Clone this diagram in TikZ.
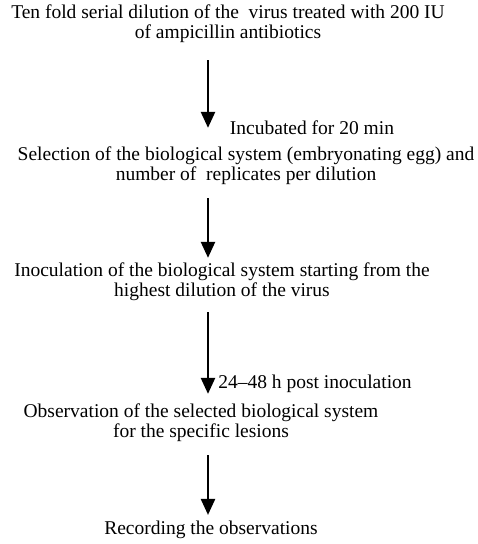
\documentclass[tikz,border=0pt]{standalone}
\usepackage{fontspec}
\setmainfont{Liberation Serif}
\usetikzlibrary{arrows.meta}

\begin{document}
\begin{tikzpicture}[x=1pt, y=-1pt,
		txt/.style={align=center, inner sep=0pt, font=\fontsize{19.5}{20}\selectfont},
		flow/.style={-{Triangle[width=14pt,length=16pt]}, line width=2.4pt}]
	\useasboundingbox (0,0) rectangle (478,544);
	\coordinate (spine) at (208,0); % common x of the arrows

	\node[txt] (dil) at (228,24) {Ten fold serial dilution of the\ \ virus treated with 200 IU\\of ampicillin antibiotics};
	\node[txt] (inc) at (312,128) {Incubated for 20 min};
	\node[txt] (sel) at (246,166) {Selection of the biological system (embryonating egg) and\\number of\ \ replicates per dilution};
	\node[txt] (ino) at (222,282) {Inoculation of the biological system starting from the\\highest dilution of the virus};
	\node[txt] (pst) at (315,384) {24--48 h post inoculation};
	\node[txt] (obs) at (201,423) {Observation of the selected biological system\\for the specific lesions};
	\node[txt] (rec) at (211,530) {Recording the observations};

	\draw[flow, shorten <=17pt, shorten >=19pt] (dil.south -| spine) -- (sel.north -| spine); % 20 min
	\draw[flow, shorten <=13pt, shorten >=5pt] (sel.south -| spine) -- (ino.north -| spine);
	\draw[flow, shorten <=11pt, shorten >=10pt] (ino.south -| spine) -- (obs.north -| spine); % 24-48 h
	\draw[flow, shorten <=13pt, shorten >=6pt] (obs.south -| spine) -- (rec.north -| spine);
\end{tikzpicture}
\end{document}
